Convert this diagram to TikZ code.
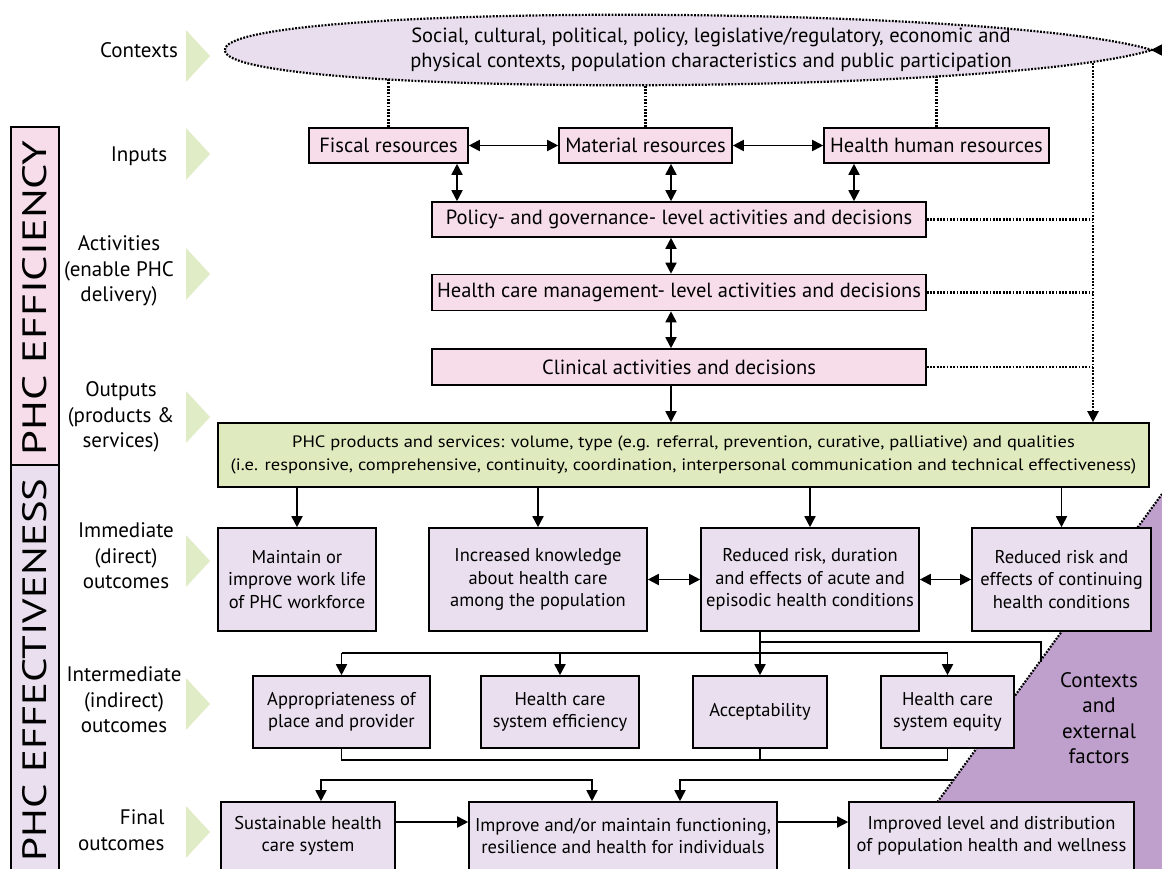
\documentclass[tikz,border=0pt]{standalone}
\usepackage{graphicx}
\usepackage{fontspec}
\setmainfont{PT Sans}
\newfontfamily\wideout[FakeStretch=1.12]{PT Sans}
\usetikzlibrary{arrows.meta}
\definecolor{effpink}{RGB}{246,221,233}
\definecolor{efflila}{RGB}{233,223,238}
\definecolor{ctxfill}{RGB}{232,222,237}
\definecolor{outgreen}{RGB}{223,235,190}
\definecolor{markgreen}{RGB}{224,236,198}
\definecolor{extpurple}{RGB}{191,160,204}
\pgfdeclarelayer{background}
\pgfsetlayers{background,main}
\newcommand{\pkfont}{\fontsize{20.5}{23}\selectfont}
\newcommand{\bxfont}{\fontsize{18.5}{22.5}\selectfont}
\newcommand{\lbfont}{\fontsize{21}{25.5}\selectfont}

\begin{document}
\begin{tikzpicture}[x = 1pt, y = -1pt,
  pinkbox/.style = {draw, line width = 1.6pt, fill = effpink, font = \pkfont, inner sep = 0pt, minimum height = 36},
  lilabox/.style = {draw, line width = 1.6pt, fill = efflila, font = \bxfont, align = center, inner sep = 0pt},
  lbl/.style = {font = \lbfont, align = center},
  wire/.style = {line width = 1.8pt},
  conn/.style = {wire, -{Triangle[length = 11pt, width = 11pt]}},
  biconn/.style = {wire, {Triangle[length = 11pt, width = 11pt]}-{Triangle[length = 11pt, width = 11pt]}},
  dots/.style = {line width = 2.2pt, dash pattern = on 1.8pt off 1.5pt}]
\useasboundingbox (0, 0) rectangle (1162, 869);

% left side: bars, labels and markers
\filldraw[fill = effpink, line width = 1.6pt] (11, 127) rectangle (59, 465);
\filldraw[fill = efflila, line width = 1.6pt] (11, 465) rectangle (59, 885);
\node (barEff) at (35, 298) [rotate = 90] {\resizebox{315pt}{24pt}{PHC EFFICIENCY}};
\node (barEffect) at (35, 670) [rotate = 90] {\resizebox{383pt}{24pt}{PHC EFFECTIVENESS}};
\foreach \y in {56, 154, 274, 417, 561, 704, 832}
  \fill[markgreen] (186, {\y - 26}) -- (210, \y) -- (186, {\y + 26}) -- cycle;
\node (lCtx) at (139, 50) [lbl] {Contexts};
\node (lIn) at (139, 156) [lbl] {Inputs};
\node (lAct) at (119, 271) [lbl] {Activities\\(enable PHC\\delivery)};
\node (lOut) at (121, 417) [lbl] {Outputs\\(products \&\\services)};
\node (lImm) at (126, 556) [lbl] {Immediate\\(direct)\\outcomes};
\node (lInt) at (124, 700) [lbl] {Intermediate\\(indirect)\\outcomes};
\node (lFin) at (168, 830) [lbl, anchor = east, align = right] {Final\\outcomes};

% contexts and external factors
\begin{pgfonlayer}{background}
\fill[white] (0, 0) rectangle (1162, 869);
\fill[extpurple] (1162, 494) -- (888.6, 869) -- (1162, 869) -- cycle;
\draw[dots] (1162, 494) -- (888.6, 869);
\end{pgfonlayer}
\node (ext) at (1099, 718) [lbl] {Contexts\\and\\external\\factors};
\coordinate (ext1) at (1041, 662);
\coordinate (ext2) at (954, 780);
\coordinate (ctxc) at (688, 50);

% inputs and activities
\node (fiscal) at (388.5, 145.5) [pinkbox, minimum width = 159, minimum height = 35] {Fiscal resources};
\node (material) at (645.5, 145.5) [pinkbox, minimum width = 173, minimum height = 35] {Material resources};
\node (hhr) at (936.5, 145.5) [pinkbox, minimum width = 225, minimum height = 35] {Health human resources};
\node (policy) at (679, 219.5) [pinkbox, minimum width = 494, minimum height = 35] {Policy- and governance- level activities and decisions};
\node (mgmt) at (679, 292.5) [pinkbox, minimum width = 494] {Health care management- level activities and decisions};
\node (clinical) at (679, 367) [pinkbox, minimum width = 494] {Clinical activities and decisions};
\node (outputs) at (683.5, 455) [draw, line width = 1.6pt, fill = outgreen, minimum width = 931, minimum height = 64, align = center, font = \wideout\fontsize{16.5}{23}\selectfont] {PHC products and services: volume, type (e.g. referral, prevention, curative, palliative) and qualities\\(i.e. responsive, comprehensive, continuity, coordination, interpersonal communication and technical effectiveness)};

% outcomes
\node (workl) at (297, 579.5) [lilabox, minimum width = 158, minimum height = 103] {Maintain or\\improve work life\\of PHC workforce};
\node (knowl) at (538, 579.5) [lilabox, minimum width = 218, minimum height = 103] {Increased knowledge\\about health care\\among the population};
\node (acute) at (810, 579.5) [lilabox, minimum width = 218, minimum height = 103] {Reduced risk, duration\\and effects of acute and\\episodic health conditions};
\node (contin) at (1061.5, 579.5) [lilabox, minimum width = 179, minimum height = 103] {Reduced risk and\\effects of continuing\\health conditions};
\node (approp) at (341.5, 712) [lilabox, minimum width = 177, minimum height = 72] {Appropriateness of\\place and provider};
\node (effic) at (560, 712) [lilabox, minimum width = 158, minimum height = 72] {Health care\\system efficiency};
\node (accept) at (760, 712) [lilabox, minimum width = 134, minimum height = 72] {Acceptability};
\node (equity) at (947.5, 712) [lilabox, minimum width = 133, minimum height = 72] {Health care\\system equity};
\node (sustain) at (308, 836) [lilabox, minimum width = 174, minimum height = 68] {Sustainable health\\care system};
\node (funct) at (623, 836) [lilabox, minimum width = 308, minimum height = 68] {Improve and/or maintain functioning,\\resilience and health for individuals};
\node (popheal) at (991.5, 836) [lilabox, minimum width = 285, minimum height = 68] {Improved level and distribution\\of population health and wellness};

% dotted links to the contexts
\draw[dots] (fiscal.north) -- (fiscal.north |- ctxc);
\draw[dots] (material.north) -- (material.north |- ctxc);
\draw[dots] (hhr.north) -- (hhr.north |- ctxc);
\draw[dots] (policy.east) -- (1093, 0 |- policy.east);
\draw[dots] (mgmt.east) -- (1093, 0 |- mgmt.east);
\draw[dots] (clinical.east) -- (1093, 0 |- clinical.east);
\draw[dots, -{Triangle[length = 11pt, width = 11pt]}] (1093, 50) -- (1093, 0 |- outputs.north);
\fill[ctxfill] (225, 50) .. controls (222, 2) and (1000, 4) .. (1152, 50) .. controls (1000, 96) and (222, 98) .. (225, 50);
\draw[dots] (225, 50) .. controls (222, 2) and (1000, 4) .. (1152, 50) .. controls (1000, 96) and (222, 98) .. (225, 50);
\node (ctx) at (711, 50) [lbl, font = \fontsize{20.5}{25}\selectfont] {Social, cultural, political, policy, legislative/regulatory, economic and\\physical contexts, population characteristics and public participation};
\draw[conn] (1170, 50) -- (1151, 50);

% efficiency links
\draw[biconn] (fiscal) -- (material);
\draw[biconn] (material) -- (hhr);
\draw[biconn] (457, 0 |- fiscal.south) -- (457, 0 |- policy.north);
\draw[biconn] (671, 0 |- material.south) -- (671, 0 |- policy.north);
\draw[biconn] (854, 0 |- hhr.south) -- (854, 0 |- policy.north);
\draw[biconn] (671, 0 |- policy.south) -- (671, 0 |- mgmt.north);
\draw[biconn] (671, 0 |- mgmt.south) -- (671, 0 |- clinical.north);
\draw[conn] (671, 0 |- clinical.south) -- (671, 0 |- outputs.north);

% effectiveness links
\foreach \b in {workl, knowl, acute, contin}
  \draw[conn] (outputs.south -| \b.north) -- (\b.north);
\draw[biconn] (knowl) -- (acute);
\draw[biconn] (acute) -- (contin);
\draw[conn] (accept.north |- acute.south) -- (accept.north);
\draw[wire] (accept.north |- 0, 642) -| (ext1);
\draw[wire] (approp.north |- 0, 653) -- (equity.north |- 0, 653);
\foreach \b in {approp, effic, equity}
  \draw[conn] (\b.north |- 0, 653) -- (\b.north);
\draw[wire] (approp.south) -- (approp.south |- 0, 760) -- (equity.south |- 0, 760) -- (equity.south);
\draw[wire] (accept.south) -- (accept.south |- 0, 760);
\draw[conn] (592, 780) -- (321, 780) -- (321, 0 |- sustain.north);
\draw[conn] (321, 780) -- (592, 780) -- (592, 0 |- funct.north);
\draw[conn] (ext2) -- (680, 780) -- (680, 0 |- funct.north);
\draw[conn] (sustain.east |- 0, 822) -- (funct.west |- 0, 822);
\draw[conn] (funct.east |- 0, 822) -- (popheal.west |- 0, 822);
\end{tikzpicture}
\end{document}
